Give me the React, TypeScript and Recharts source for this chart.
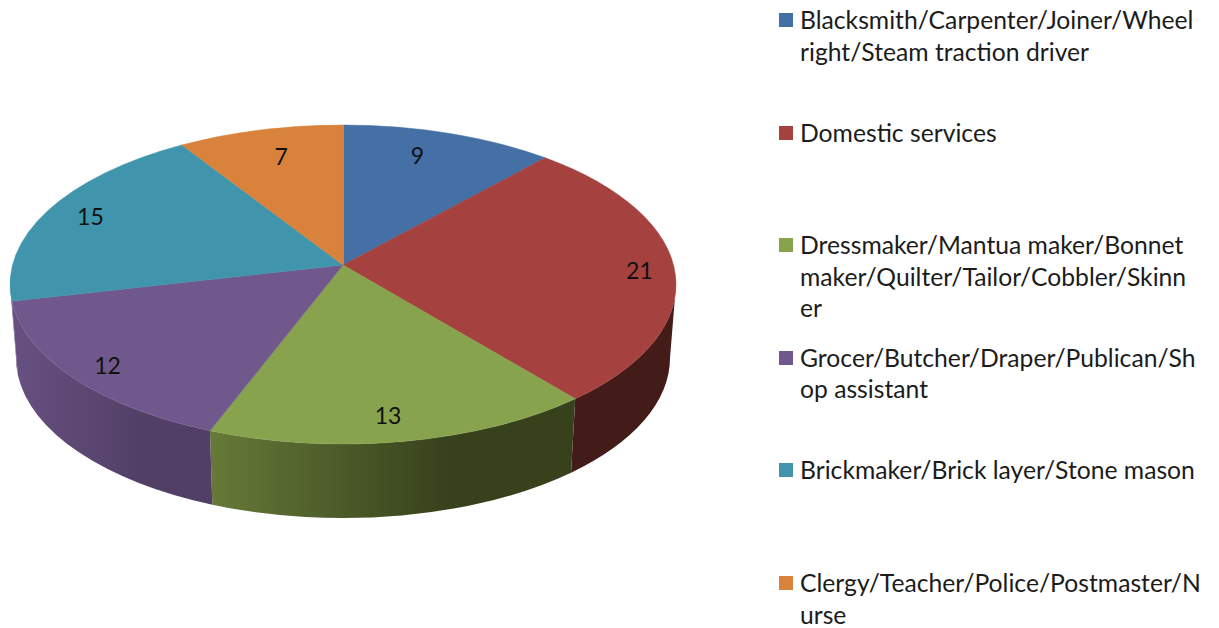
import { Legend, Pie, PieChart } from "recharts";

const legendLines = [
  ["Blacksmith/Carpenter/Joiner/Wheel", "right/Steam traction driver"],
  ["Domestic services"],
  ["Dressmaker/Mantua maker/Bonnet", "maker/Quilter/Tailor/Cobbler/Skinn", "er"],
  ["Grocer/Butcher/Draper/Publican/Sh", "op assistant"],
  ["Brickmaker/Brick layer/Stone mason"],
  ["Clergy/Teacher/Police/Postmaster/N", "urse"],
];
const values = [9, 21, 13, 12, 15, 7];

const colors = ["#4570a5", "#a54240", "#87a34d", "#70588c", "#4095ac", "#d8823c"];
// left and right end of each side wall, lit from the left
const wallColors = [
  ["#2b4568", "#2b4568"],
  ["#431b18", "#431b18"],
  ["#667a38", "#37411c"],
  ["#675181", "#523f66"],
  ["#675181", "#675181"],
  ["#8a5326", "#8a5326"],
];
// small shift of each number from its spot on the inner ellipse
const labelNudge = [
  [-20, -3],
  [1, -1],
  [-9, 0],
  [6, 3],
  [8, -5],
  [12, 0],
];

const data = values.map((value, i) => ({ name: legendLines[i].join(""), value }));

const FONT = "Lato, 'Open Sans', sans-serif";
const CX = 343;
const APEX_Y = 265;
const TOP = { cy: 284.5, rx: 333, ry: 159.5 };
const BOTTOM = { cy: 358, rx: 327, ry: 160 };

const rad = (d: number) => (d * Math.PI) / 180;
// perspective pushes the slice edges around the rim a little
const rimAngle = (recharts: number) => {
  const t = 90 - recharts;
  return t - 7 * Math.sin(rad(t));
};
const onRim = (e: { cy: number; rx: number; ry: number }, t: number) => [
  CX + e.rx * Math.sin(rad(t)),
  e.cy - e.ry * Math.cos(rad(t)),
];

function TopSlice(props: any) {
  const { startAngle, endAngle, fill, index } = props;
  const a = rimAngle(startAngle);
  const b = rimAngle(endAngle);
  const [x0, y0] = onRim(TOP, a);
  const [x1, y1] = onRim(TOP, b);
  return (
    <g>
      <path
        d={`M${CX},${APEX_Y}L${x0},${y0}A${TOP.rx},${TOP.ry} 0 ${b - a > 180 ? 1 : 0} 1 ${x1},${y1}Z`}
        fill={fill}
        stroke={fill}
        strokeWidth={0.5}
      />
      {index === 0 && <path d={`M${CX},${APEX_Y}L${x0},${y0}`} stroke="#a9bdd8" strokeWidth={1} />}
    </g>
  );
}

function WallSlice(props: any) {
  const { startAngle, endAngle, index } = props;
  const a = Math.max(rimAngle(startAngle), 90);
  const b = Math.min(rimAngle(endAngle), 270);
  if (b <= a) return <g />;
  const [x0, y0] = onRim(TOP, a);
  const [x1, y1] = onRim(TOP, b);
  const [x2, y2] = onRim(BOTTOM, b);
  const [x3, y3] = onRim(BOTTOM, a);
  const id = `wall-${index}`;
  const xs = [x0, x1, x2, x3];
  return (
    <g>
      <defs>
        <linearGradient id={id} gradientUnits="userSpaceOnUse" x1={Math.min(...xs)} y1={0} x2={Math.max(...xs)} y2={0}>
          <stop offset="0%" stopColor={wallColors[index][0]} />
          <stop offset="65%" stopColor={wallColors[index][1]} />
          <stop offset="100%" stopColor={wallColors[index][1]} />
        </linearGradient>
      </defs>
      <path
        d={`M${x0},${y0}A${TOP.rx},${TOP.ry} 0 0 1 ${x1},${y1}L${x2},${y2}A${BOTTOM.rx},${BOTTOM.ry} 0 0 0 ${x3},${y3}Z`}
        fill={`url(#${id})`}
      />
    </g>
  );
}

function ValueLabel(props: any) {
  const { midAngle, index, value } = props;
  const [x, y] = onRim({ cy: TOP.cy, rx: 297, ry: 133 }, rimAngle(midAngle));
  return (
    <text
      x={x + labelNudge[index][0]}
      y={y + labelNudge[index][1]}
      fill="#111"
      fontFamily={FONT}
      fontSize={23}
      textAnchor="middle"
      dominantBaseline="central"
    >
      {value}
    </text>
  );
}

function LegendList() {
  return (
    <div style={{ fontFamily: FONT, fontSize: 24.7, color: "#1c1c1c", lineHeight: "31.5px" }}>
      {legendLines.map((lines, i) => (
        <div key={i} style={{ position: "absolute", left: 0, top: 4 + i * 112.6, whiteSpace: "nowrap" }}>
          <span
            style={{
              position: "absolute",
              left: 0,
              top: 9,
              width: 14,
              height: 14,
              background: colors[i],
            }}
          />
          <div style={{ marginLeft: 21 }}>
            {lines.map((line) => (
              <div key={line}>{line}</div>
            ))}
          </div>
        </div>
      ))}
    </div>
  );
}

export default function App() {
  return (
    <div style={{ position: "absolute", left: 0, top: 0, width: 1219, height: 628, background: "#fff", overflow: "hidden" }}>
      <PieChart width={1219} height={628} margin={{ top: 0, right: 0, bottom: 0, left: 0 }}>
        <Pie
          data={data}
          dataKey="value"
          cx={CX}
          cy={TOP.cy}
          outerRadius={TOP.rx}
          startAngle={90}
          endAngle={-270}
          stroke="none"
          shape={WallSlice}
          isAnimationActive={false}
          label={false}
          labelLine={false}
        />
        <Pie
          data={data.map((d, i) => ({ ...d, fill: colors[i] }))}
          dataKey="value"
          cx={CX}
          cy={TOP.cy}
          outerRadius={TOP.rx}
          startAngle={90}
          endAngle={-270}
          stroke="none"
          shape={TopSlice}
          isAnimationActive={false}
          label={ValueLabel}
          labelLine={false}
        />
        <Legend
          layout="vertical"
          content={LegendList}
          wrapperStyle={{ position: "absolute", left: 779, top: 0, width: 440, height: 628 }}
        />
      </PieChart>
    </div>
  );
}
